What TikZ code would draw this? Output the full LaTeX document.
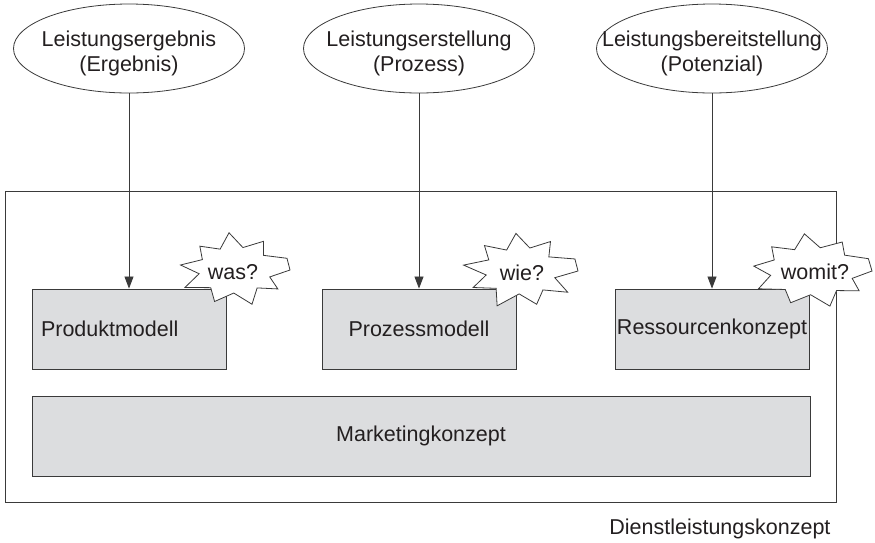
\documentclass[tikz,border=0pt]{standalone}
\usepackage{fontspec}
\setmainfont{Liberation Sans}
\usetikzlibrary{shapes.geometric,arrows.meta,calc}
\definecolor{ink}{HTML}{231F20}
\definecolor{boxfill}{HTML}{DCDDDF}
\definecolor{edge}{HTML}{3A3A3A}
\tikzset{
  every node/.style={text=ink, font=\fontsize{21.5}{25.5}\selectfont},
  aspect/.style={ellipse, draw=edge, line width=0.8pt, fill=white,
    minimum width=231pt, minimum height=89pt, inner sep=0pt},
  caption/.style={align=center, inner sep=0pt, yshift=-5pt},
  part/.style={rectangle, draw=edge, line width=0.9pt, fill=boxfill,
    minimum width=194pt, minimum height=80pt, inner sep=0pt},
  burst/.style={draw=edge, line width=0.8pt, fill=white, line join=miter},
  feed/.style={draw=edge, line width=0.8pt, -{Triangle[length=12pt,width=9pt]}}
}
% spiky outline round a centre: #1 centre, #2/#3 radii, #4 angle/scale pairs
\newcommand\drawburst[4]{%
  \draw[burst] ($(#1)+(0:#2 and #3)$)
    \foreach \a/\s in {#4} { -- ($(#1)+(\a:{\s*#2} and {\s*#3})$) } -- cycle;}
\begin{document}
\begin{tikzpicture}[x=1pt,y=-1pt]
\useasboundingbox (0,0) rectangle (875,542);

% outer frame of the service concept
\node[rectangle, draw=edge, line width=0.9pt, minimum width=831pt,
  minimum height=311pt, inner sep=0pt] (frame) at (420.5,346.5) {};
\node[anchor=base east] (title) at (834,534) {Dienstleistungskonzept};

% three dimensions of the service
\node[aspect, label={[caption]center:Leistungsergebnis\\(Ergebnis)}] (ergebnis) at (129,48.5) {};
\node[aspect, label={[caption]center:Leistungserstellung\\(Prozess)}] (prozess) at (419,48.5) {};
\node[aspect, label={[caption]center:Leistungsbereitstellung\\(Potenzial)}] (potenzial) at (712,48.5) {};

% sub-concepts
\node[part, text width=176pt, align=left] (produkt) at (129,329) {Produktmodell};
\node[part] (modell) at (419,329) {Prozessmodell};
\node[part] (ressourcen) at (712,329) {Ressourcenkonzept};
\node[part, minimum width=778pt] (marketing) at (421,436) {Marketingkonzept};

\draw[feed] (ergebnis.south) -- (produkt.north);
\draw[feed] (prozess.south) -- (modell.north);
\draw[feed] (potenzial.south) -- (ressourcen.north);

% question bursts
\coordinate (wasc) at (235,270);
\coordinate (wiec) at (521,271);
\coordinate (womitc) at (812,271);
\drawburst{wasc}{55}{36}{17/0.66, 34/0.94, 51/0.64, 72/1.0, 92/0.64, 113/0.95,
  132/0.66, 152/1.03, 171/0.66, 188/1.0, 206/0.66, 226/0.92, 245/0.64,
  264/1.04, 283/0.64, 303/0.95, 322/0.66, 341/1.0}
\drawburst{wiec}{57}{37}{17/0.62, 35/1.0, 53/0.64, 73/0.94, 93/0.62, 114/1.03,
  133/0.64, 152/0.95, 170/0.62, 189/1.02, 208/0.64, 227/0.94, 246/0.62,
  265/1.02, 284/0.64, 303/0.95, 322/0.62, 341/1.0}
\drawburst{womitc}{60}{36}{17/0.7, 35/0.96, 53/0.68, 73/1.02, 92/0.66, 112/0.95,
  131/0.68, 151/1.02, 170/0.7, 188/0.98, 206/0.7, 225/0.95, 244/0.66,
  263/1.04, 282/0.66, 302/0.95, 321/0.7, 340/1.0}
\node[inner sep=0pt] (was) at ($(wasc)+(-2,2)$) {was?};
\node[inner sep=0pt] (wie) at ($(wiec)+(1,2)$) {wie?};
\node[inner sep=0pt] (womit) at ($(womitc)+(3,1)$) {womit?};
\end{tikzpicture}
\end{document}
